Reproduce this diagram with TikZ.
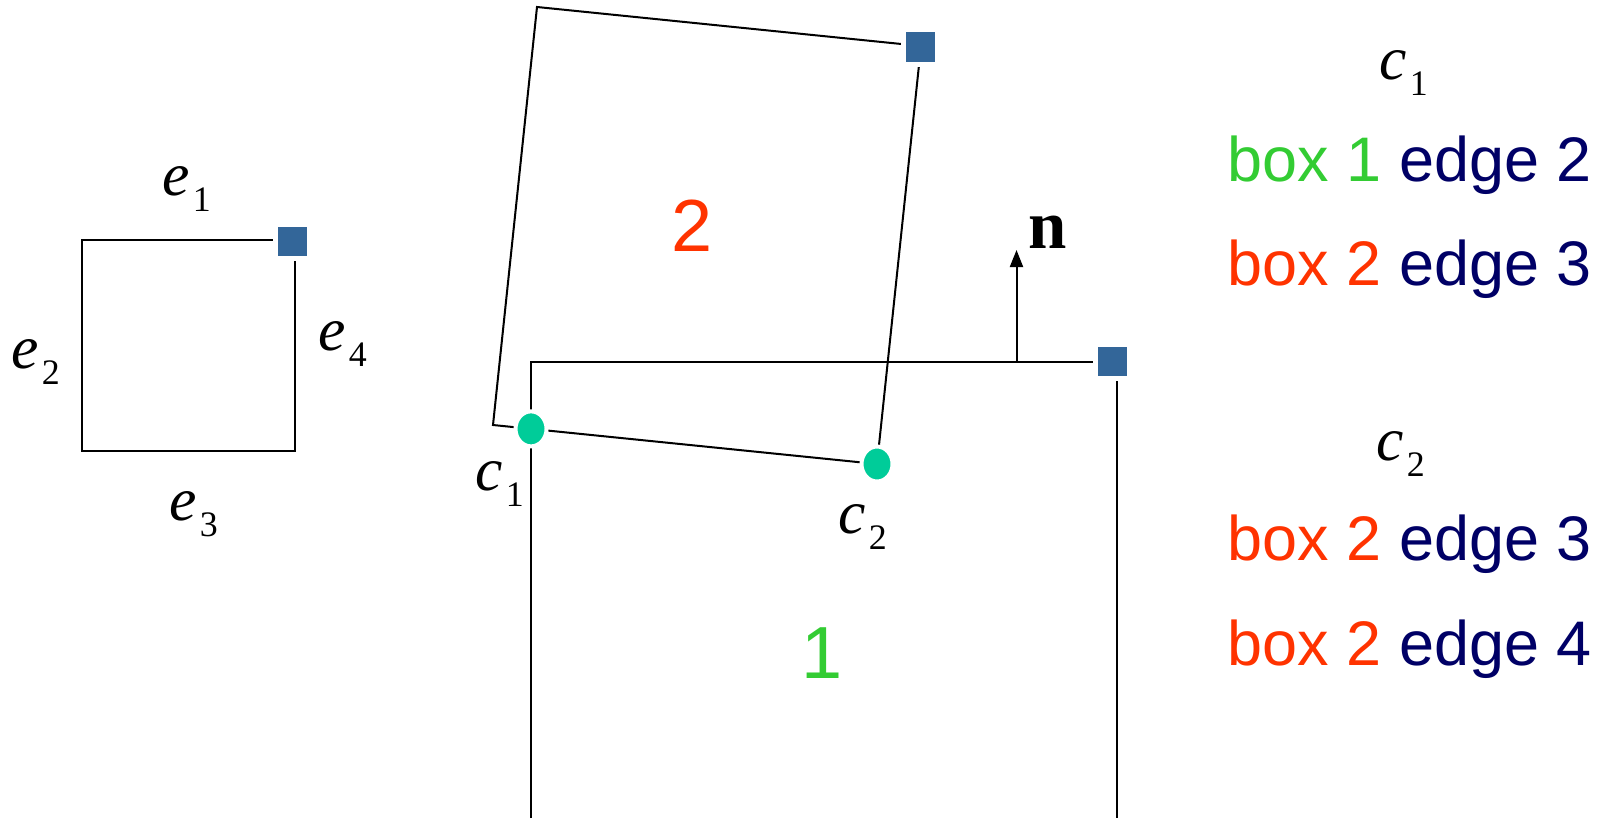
\documentclass[tikz,border=0pt]{standalone}
\usepackage{fontspec}
\setmainfont{Liberation Serif}
\setsansfont{Liberation Sans}
\usepackage{xcolor}
\usepackage{tikz}
\usetikzlibrary{arrows.meta,positioning,shapes.geometric,calc}
\definecolor{steel}{HTML}{336699}
\definecolor{jade}{HTML}{00CC99}
\definecolor{leaf}{HTML}{33CC33}
\definecolor{flame}{HTML}{FF3300}
\definecolor{navy}{HTML}{000066}
\newcommand{\sublbl}[2]{\textit{#1}\kern0.8pt\raisebox{-4.8pt}{\fontsize{10.2}{11}\selectfont #2}}
\tikzset{
  outline/.style={draw=black,line width=0.57pt},
  corner/.style={fill=steel,draw=white,line width=0.05cm,minimum size=0.34cm,inner sep=0pt},
  contact/.style={ellipse,fill=jade,draw=white,line width=0.04cm,minimum width=0.31cm,minimum height=0.35cm,inner sep=0pt},
  sym/.style={font=\fontsize{17.5}{20}\selectfont,inner sep=0pt,anchor=base west},
  boxnum/.style={font=\sffamily\fontsize{21}{24}\selectfont,inner sep=0pt},
  rowtxt/.style={font=\sffamily\fontsize{17.9}{20}\selectfont,inner sep=0pt,anchor=base west,text=navy},
  normal/.style={-{Triangle[length=0.17cm,width=0.13cm]},line width=0.57pt},
}

\begin{document}
\begin{tikzpicture}[x=0.01cm,y=-0.01cm]
    \useasboundingbox (0,0) rectangle (1612,818);
    % edge numbering box
    \coordinate (e-tl) at (82,239.5);
    \coordinate (e-tr) at (295,239.5);
    \coordinate (e-br) at (295,451);
    \coordinate (e-bl) at (82,451);
    \draw[outline] (e-tl) -- (e-tr) -- (e-br) -- (e-bl) -- cycle;
    \node[corner] (e-mark) at ($(e-tr)+(-2.5,2)$) {};
    \node[sym] (e1) at (162,195) {\sublbl{e}{1}};
    \node[sym] (e2) at (11,368) {\sublbl{e}{2}};
    \node[sym] (e3) at (169,520) {\sublbl{e}{3}};
    \node[sym] (e4) at (318,350) {\sublbl{e}{4}};
    % box 1
    \coordinate (b1-bl) at (531,818);
    \coordinate (b1-tl) at (531,361.5);
    \coordinate (b1-tr) at (1116.5,361.5);
    \coordinate (b1-br) at (1116.5,818);
    \draw[outline] (b1-bl) -- (b1-tl) -- (b1-tr) -- (b1-br);
    % box 2, tilted
    \coordinate (b2-tl) at (537,7);
    \coordinate (b2-tr) at (921,46);
    \coordinate (b2-br) at (877,464);
    \coordinate (b2-bl) at (493,425);
    \draw[outline] (b2-tl) -- (b2-tr) -- (b2-br) -- (b2-bl) -- cycle;
    \node[corner] (b1-mark) at ($(b1-tr)+(-4,0)$) {};
    \node[corner] (b2-mark) at ($(b2-tr)+(-1,1)$) {};
    \node[boxnum,text=leaf] (one) at (822,653) {1};
    \node[boxnum,text=flame] (two) at (692,226) {2};
    % contact points
    \node[contact] (c1) at (intersection of b2-bl--b2-br and b1-tl--b1-bl) {};
    \node[contact] (c2) at (b2-br) {};
    \node[sym] (c1-lbl) at (475,490) {\sublbl{c}{1}};
    \node[sym] (c2-lbl) at (838,533) {\sublbl{c}{2}};
    % normal
    \coordinate (n-base) at (1016.5,361.5);
    \coordinate (n-tip) at (1016.5,250);
    \draw[normal] (n-base) -- (n-tip);
    \node[font=\bfseries\fontsize{19.6}{22}\selectfont,inner sep=0pt] (n-lbl) at (1048,232) {n};
    % contact table
    \node[sym] (t1) at (1379,79) {\sublbl{c}{1}};
    \node[rowtxt] (r1) at (1227,181.7) {\textcolor{leaf}{box 1} edge 2};
    \node[rowtxt] (r2) at (1227,285) {\textcolor{flame}{box 2} edge 3};
    \node[sym] (t2) at (1376,460) {\sublbl{c}{2}};
    \node[rowtxt] (r3) at (1227,560.7) {\textcolor{flame}{box 2} edge 3};
    \node[rowtxt] (r4) at (1227,665) {\textcolor{flame}{box 2} edge 4};
  \end{tikzpicture}
\end{document}
